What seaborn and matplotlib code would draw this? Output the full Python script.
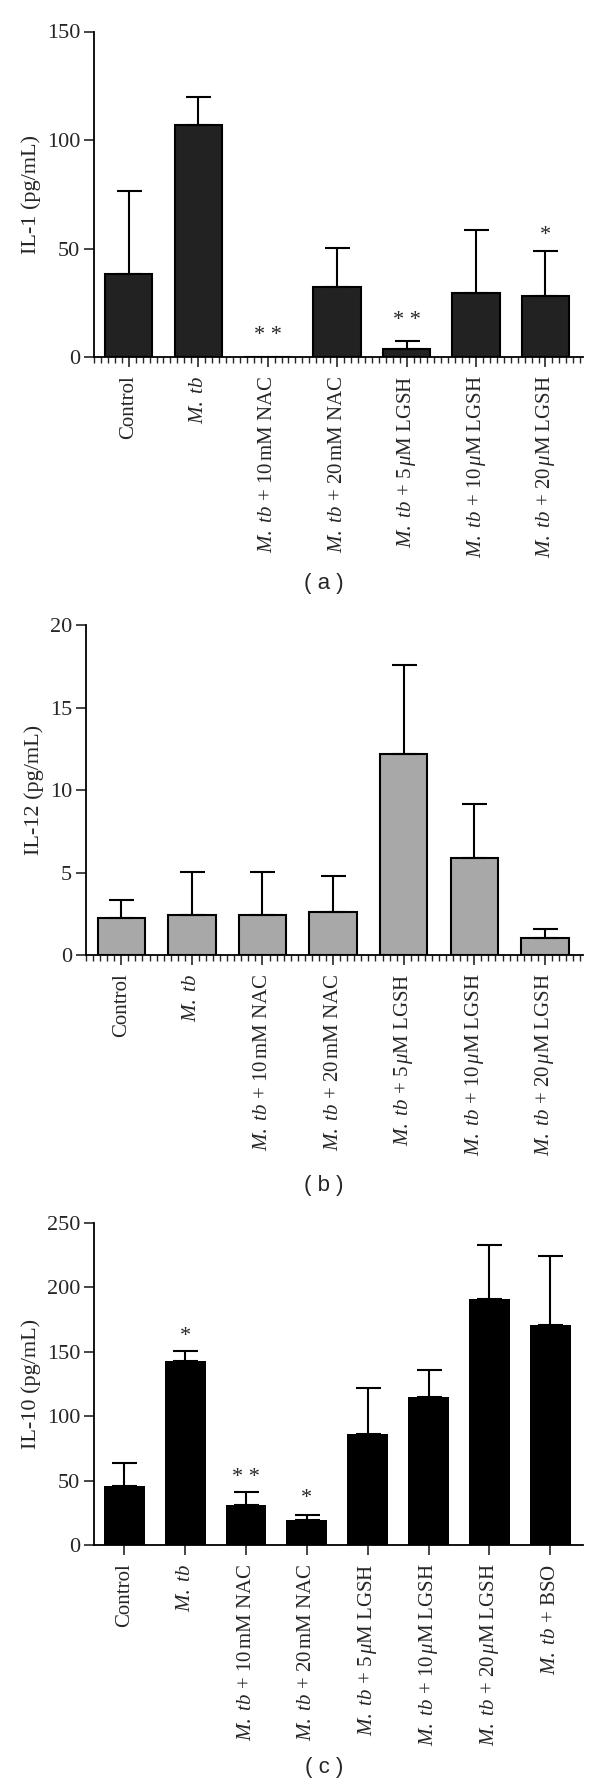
import numpy as np
import pandas as pd
import matplotlib
matplotlib.use("Agg")
import matplotlib.pyplot as plt
import seaborn as sns
from matplotlib.ticker import MultipleLocator, FixedLocator

sns.set_style("ticks")
plt.rcParams['font.family'] = ['Liberation Serif', 'DejaVu Serif']
plt.rcParams['mathtext.fontset'] = 'custom'
plt.rcParams['mathtext.rm'] = 'Liberation Serif'
plt.rcParams['mathtext.it'] = 'Liberation Serif:italic'

MT = r"$\it{M.\ tb}$"
labels7 = ["Control", MT, MT + r" + 10$\,$mM NAC", MT + r" + 20$\,$mM NAC",
           MT + r" + 5$\,\it{\mu}$M LGSH", MT + r" + 10$\,\it{\mu}$M LGSH",
           MT + r" + 20$\,\it{\mu}$M LGSH"]
labels8 = labels7 + [MT + r" + BSO"]

# Panel (a) IL-1
il1_mean = [38.1, 106.9, 0.0, 32.1, 3.5, 29.4, 28.0]
il1_top = [76.4, 119.7, 0.0, 50.2, 7.3, 58.5, 48.8]
il1_stars = ["", "", "* *", "", "* *", "", "*"]
il1_star_y = [0, 0, 5.5, 0, 12.5, 0, 51.5]

# Panel (b) IL-12
il12_mean = [2.28, 2.47, 2.47, 2.63, 12.21, 5.90, 1.07]
il12_top = [3.36, 5.03, 5.03, 4.83, 17.62, 9.18, 1.61]

# Panel (c) IL-10
il10_mean = [46.2, 142.9, 31.6, 19.7, 86.2, 115.2, 191.2, 171.2]
il10_top = [63.8, 151.0, 41.5, 23.9, 121.7, 135.7, 232.7, 224.3]
il10_stars = ["", "*", "* *", "*", "", "", "", ""]
il10_star_y = [0, 155.0, 45.0, 29.0, 0, 0, 0, 0]

fig = plt.figure(figsize=(6, 17.87), dpi=100)

W, H = 600.0, 1787.0
def axpos(left, right, top, bottom):
    return [left / W, 1 - bottom / H, (right - left) / W, (bottom - top) / H]

def panel(ax, labels, mean, top, color, edge, ylim, ystep, ylabel, width, minor,
          stars=None, star_y=None, xright=0.54):
    df = pd.DataFrame({"cat": labels, "val": mean})
    sns.barplot(data=df, x="cat", y="val", ax=ax, color=color, width=width,
                edgecolor=edge, linewidth=1.5 if edge != 'none' else 0,
                saturation=1, errorbar=None)
    x = np.arange(len(labels))
    up = np.array(top) - np.array(mean)
    m = up > 0
    ax.errorbar(x[m], np.array(mean)[m], yerr=[np.zeros(m.sum()), up[m]], fmt='none',
                ecolor='black', elinewidth=1.5, capsize=9, capthick=1.5, zorder=1)
    if stars:
        for xi, s, yy in zip(x, stars, star_y):
            if s:
                ax.text(xi, yy, s, ha='center', va='bottom', fontsize=16)
    ax.set_xlim(-0.5, len(labels) - 1 + xright)
    ax.set_ylim(0, ylim)
    ax.yaxis.set_major_locator(MultipleLocator(ystep))
    ax.set_xticks(x)
    ax.set_xticklabels(labels, rotation=90, fontsize=15)
    ax.set_xlabel("")
    ax.set_ylabel(ylabel, fontsize=16, labelpad=4)
    ax.tick_params(axis='y', labelsize=16, length=7, width=1.2, direction='out', pad=3)
    ax.tick_params(axis='x', length=7, width=1.2, direction='out', pad=6)
    if minor:
        mt = [v for v in np.arange(-0.5, len(labels) - 1 + xright + 1e-6, 0.1)
              if abs(v - round(v)) > 1e-6]
        ax.xaxis.set_minor_locator(FixedLocator(mt))
        ax.tick_params(axis='x', which='minor', length=4, width=1.0)
    sns.despine(ax=ax)
    for s in ['left', 'bottom']:
        ax.spines[s].set_linewidth(1.3)
        ax.spines[s].set_color('black')

axa = fig.add_axes(axpos(94, 583, 31.5, 357))
panel(axa, labels7, il1_mean, il1_top, '#222222', 'black', 150, 50, "IL-1 (pg/mL)",
      0.68, True, il1_stars, il1_star_y)

axb = fig.add_axes(axpos(86, 583, 625.4, 955.4))
panel(axb, labels7, il12_mean, il12_top, '#a8a8a8', 'black', 20, 5, "IL-12 (pg/mL)",
      0.67, True)

axc = fig.add_axes(axpos(94, 583, 1223, 1545.4))
panel(axc, labels8, il10_mean, il10_top, '#000000', 'none', 250, 50, "IL-10 (pg/mL)",
      0.67, False, il10_stars, il10_star_y)

cap_font = ['Liberation Sans', 'DejaVu Sans']
fig.text(0.54, 1 - 584 / H, "( a )", ha='center', va='center', fontsize=16, family=cap_font)
fig.text(0.54, 1 - 1186 / H, "( b )", ha='center', va='center', fontsize=16, family=cap_font)
fig.text(0.54, 1 - 1768 / H, "( c )", ha='center', va='center', fontsize=16, family=cap_font)

fig.savefig("out.png", dpi=100, facecolor='white')
